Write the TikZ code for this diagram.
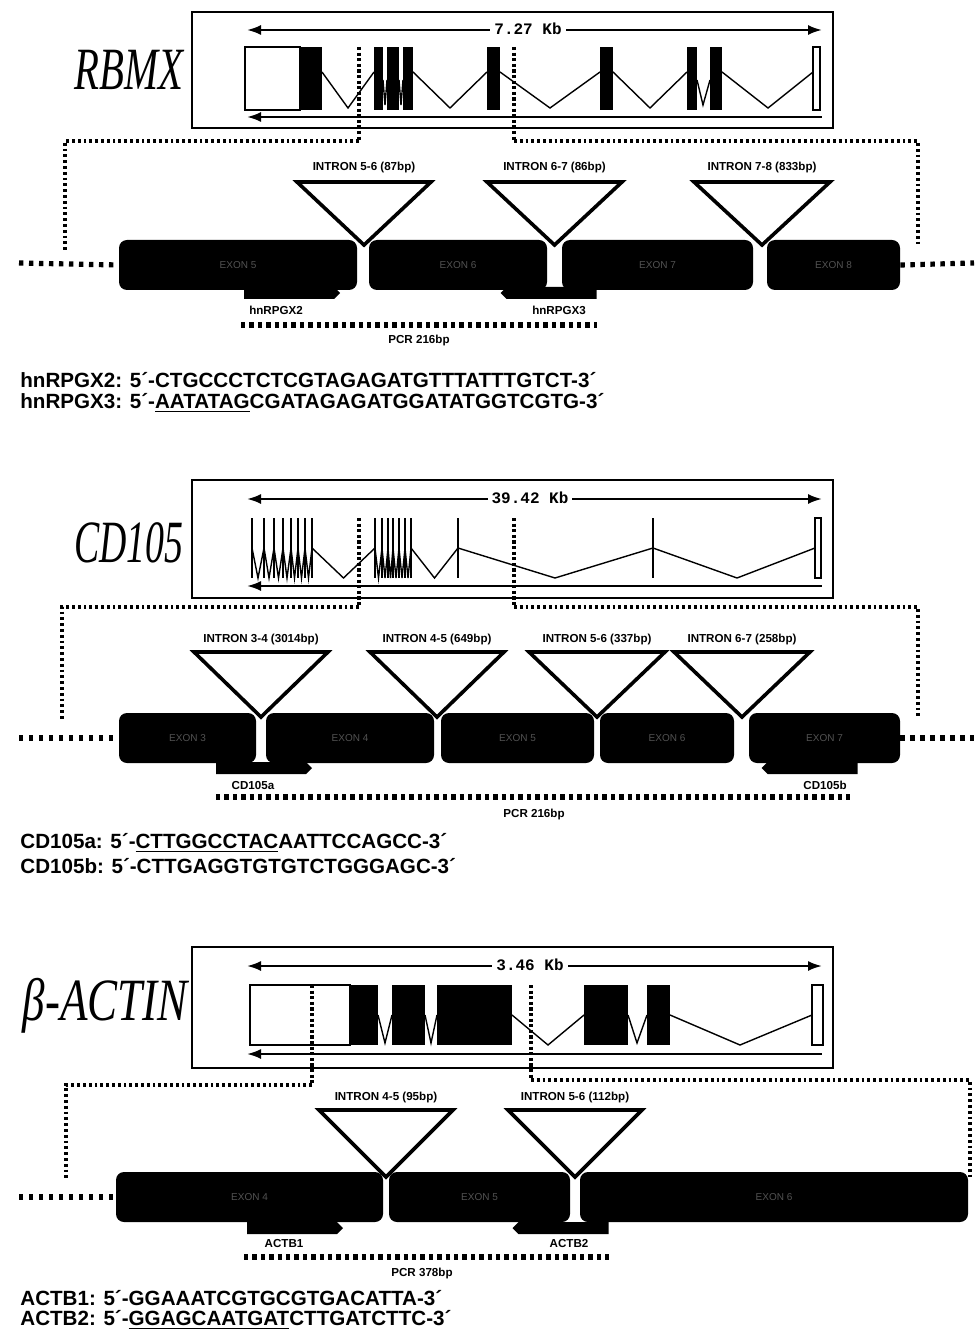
\documentclass[tikz,border=0pt]{standalone}
\usepackage{fontspec}
\setmainfont{Liberation Sans}
\newfontfamily\genefont{Liberation Serif}
\newfontfamily\kbfont{Liberation Mono}
\usetikzlibrary{arrows.meta, shapes.symbols, calc}

\begin{document}
\begin{tikzpicture}[
    x=0.5pt, y=-0.5pt,
    >={Latex[length=7pt,width=5pt]},
    % --- estilos ---
    genelabel/.style  = {font=\genefont\itshape\fontsize{30}{30}\selectfont,
                         anchor=base east, inner sep=0pt},
    genebox/.style    = {draw, line width=1pt},
    spanarrow/.style  = {line width=1.1pt},
    kbtext/.style     = {font=\kbfont\bfseries\fontsize{8}{8}\selectfont,
                         fill=white, inner sep=2pt},
    exonw/.style      = {draw, fill=white, line width=0.7pt},
    splice/.style     = {line width=0.7pt},
    thinbar/.style    = {line width=1pt},
    cutline/.style    = {dash pattern=on 1.6pt off 1.2pt, line width=1.6pt},
    linkline/.style   = {dash pattern=on 1.4pt off 1.5pt, line width=1.8pt},
    strandline/.style = {dash pattern=on 2.2pt off 2.8pt, line width=2.6pt},
    pcrline/.style    = {dash pattern=on 2.2pt off 2pt, line width=2.6pt},
    exonbox/.style    = {rectangle, rounded corners=4pt, fill=black,
                         minimum height=25pt, text=black!68, inner sep=0pt,
                         font=\fontsize{5}{5}\selectfont},
    introntri/.style  = {draw, fill=white, line width=1.8pt, line join=miter},
    tagtext/.style    = {font=\bfseries\fontsize{5.8}{6}\selectfont, inner sep=1pt},
    primerbar/.style  = {signal, fill=black, minimum width=48pt,
                         minimum height=6pt, inner sep=0pt},
    seqtext/.style    = {font=\bfseries\fontsize{10.3}{12}\selectfont,
                         anchor=west, inner sep=0pt}
]
\useasboundingbox (0,0) rectangle (974,1331);
\fill[white] (0,0) rectangle (974,1331);

% ===================== RBMX =====================
\node[genelabel] (rname) at (184,90) {\scalebox{0.68}[1]{RBMX}};
\draw[genebox] (192,12) rectangle (833,128);
\coordinate (rka) at (247,30);
\coordinate (rkb) at (822,30);
\draw[spanarrow, <->] (rka) -- (rkb);
\node[kbtext] (rkt) at (528,29) {7.27 Kb};
\coordinate (rsa) at (247,117);
\coordinate (rsb) at (822,117);
\draw[spanarrow, <-] (rsa) -- (rsb);
% estructura del gen
\draw[exonw] (245,47) rectangle (300,110);
\fill (300,47) rectangle (322,110);
\fill (374,47) rectangle (383,110);
\fill (387,47) rectangle (399,110);
\fill (403,47) rectangle (413,110);
\fill (487,47) rectangle (500,110);
\fill (600,47) rectangle (613,110);
\fill (687,47) rectangle (697,110);
\fill (710,47) rectangle (722,110);
\draw[exonw] (813,47) rectangle (820,110);
\draw[splice] (322,72) -- (348,108) -- (374,72);
\draw[splice] (383,80) -- (385,105) -- (387,80);
\draw[splice] (399,80) -- (401,105) -- (403,80);
\draw[splice] (413,72) -- (450,108) -- (487,72);
\draw[splice] (500,72) -- (550,108) -- (600,72);
\draw[splice] (613,72) -- (650,108) -- (687,72);
\draw[splice] (697,80) -- (703,105) -- (710,80);
\draw[splice] (722,72) -- (768,108) -- (813,72);
% lineas de ampliacion
\coordinate (rc1) at (359,47);  \coordinate (rd1) at (359,141);
\coordinate (rc2) at (514,47);  \coordinate (rd2) at (514,141);
\coordinate (rl)  at (65,252);  \coordinate (rr)  at (918,247);
\draw[cutline] (rc1) -- (rd1);
\draw[cutline] (rc2) -- (rd2);
\draw[linkline] (rd1) -| (rl);
\draw[linkline] (rd2) -| (rr);
% exones
\node[exonbox, minimum width=119pt]  (re5) at (238,265)   {EXON 5};
\node[exonbox, minimum width=89pt]   (re6) at (458,265)   {EXON 6};
\node[exonbox, minimum width=95.5pt] (re7) at (657.5,265) {EXON 7};
\node[exonbox, minimum width=66.5pt] (re8) at (833.5,265) {EXON 8};
\coordinate (rsl) at (19,263);  \coordinate (rsr) at (974,263);
\draw[strandline] (rsl) -- (re5.west);
\draw[strandline] (re8.east) -- (rsr);
% intrones
\foreach \l/\r/\t [count=\i] in {297/431/{INTRON 5-6 (87bp)},
                                487/622/{INTRON 6-7 (86bp)},
                                694/830/{INTRON 7-8 (833bp)}} {
    \draw[introntri] (\l,182) -- (\r,182) -- ({(\l+\r)/2},245) -- cycle;
    \node[tagtext] (ri\i) at ({(\l+\r)/2},168) {\t};
}
% cebadores
\node[primerbar, signal to=east] (rp2) at (289,293)   {};
\node[primerbar, signal to=west] (rp3) at (551.5,293) {};
\node[tagtext] (rp2t) at (276,310) {hnRPGX2};
\node[tagtext] (rp3t) at (559,310) {hnRPGX3};
\coordinate (rpa) at (241,325);  \coordinate (rpb) at (597,325);
\draw[pcrline] (rpa) -- (rpb);
\node[tagtext] (rpcr) at (419,341) {PCR 216bp};
\node[seqtext] (rq2) at (20,380) {hnRPGX2: 5´-CTGCCCTCTCGTAGAGATGTTTATTTGTCT-3´};
\node[seqtext] (rq3) at (20,403) {hnRPGX3: 5´-\underline{AATATAG}CGATAGAGATGGATATGGTCGTG-3´};

% ===================== CD105 =====================
\node[genelabel] (cname) at (184,562) {\scalebox{0.63}[1]{CD105}};
\draw[genebox] (192,480) rectangle (833,598);
\coordinate (cka) at (247,499);
\coordinate (ckb) at (822,499);
\draw[spanarrow, <->] (cka) -- (ckb);
\node[kbtext] (ckt) at (530,498) {39.42 Kb};
\coordinate (csa) at (247,586);
\coordinate (csb) at (822,586);
\draw[spanarrow, <-] (csa) -- (csb);
% estructura del gen
\foreach \x in {252,264,274,283,291,298,305,312,375,382,388,393,399,405,411,458,653}
    \draw[thinbar] (\x,518) -- (\x,578);
\foreach \a/\b in {252/264,264/274,274/283,283/291,291/298,298/305,305/312,312/375,
                   375/382,382/388,388/393,393/399,399/405,405/411,411/458}
    \draw[splice] (\a,548) -- ({(\a+\b)/2},578) -- (\b,548);
\draw[splice] (458,548) -- (555,578) -- (653,548) -- (737,578) -- (815,548);
\draw[exonw] (815,518) rectangle (821,578);
% lineas de ampliacion
\coordinate (cc1) at (359,518);  \coordinate (cd1) at (359,607);
\coordinate (cc2) at (514,518);  \coordinate (cd2) at (514,607);
\coordinate (cl)  at (62,720);   \coordinate (cr)  at (918,717);
\draw[cutline] (cc1) -- (cd1);
\draw[cutline] (cc2) -- (cd2);
\draw[linkline] (cd1) -| (cl);
\draw[linkline] (cd2) -| (cr);
% exones
\node[exonbox, minimum width=68.5pt] (ce3) at (187.5,738) {EXON 3};
\node[exonbox, minimum width=84pt]   (ce4) at (350,738)   {EXON 4};
\node[exonbox, minimum width=76.5pt] (ce5) at (517.5,738) {EXON 5};
\node[exonbox, minimum width=67pt]   (ce6) at (667,738)   {EXON 6};
\node[exonbox, minimum width=75.5pt] (ce7) at (824.5,738) {EXON 7};
\coordinate (csl) at (19,738);  \coordinate (csr) at (974,738);
\draw[strandline] (csl) -- (ce3.west);
\draw[strandline] (ce7.east) -- (csr);
% intrones
\foreach \l/\r/\t [count=\i] in {194/328/{INTRON 3-4 (3014bp)},
                                370/504/{INTRON 4-5 (649bp)},
                                529/665/{INTRON 5-6 (337bp)},
                                674/810/{INTRON 6-7 (258bp)}} {
    \draw[introntri] (\l,652) -- (\r,652) -- ({(\l+\r)/2},717) -- cycle;
    \node[tagtext] (ci\i) at ({(\l+\r)/2},639) {\t};
}
% cebadores
\node[primerbar, signal to=east] (cpa) at (261,768)   {};
\node[primerbar, signal to=west] (cpb) at (812.5,768) {};
\node[tagtext] (cpat) at (253,785) {CD105a};
\node[tagtext] (cpbt) at (825,785) {CD105b};
\coordinate (cqa) at (216,797);  \coordinate (cqb) at (853,797);
\draw[pcrline] (cqa) -- (cqb);
\node[tagtext] (cpcr) at (534,814) {PCR 216bp};
\node[seqtext] (cqs1) at (20,843) {CD105a: 5´-\underline{CTTGGCCTAC}AATTCCAGCC-3´};
\node[seqtext] (cqs2) at (20,866) {CD105b: 5´-CTTGAGGTGTGTCTGGGAGC-3´};

% ===================== BETA-ACTIN =====================
\node[genelabel] (aname) at (188,1020) {\scalebox{0.75}[1]{β-ACTIN}};
\draw[genebox] (192,947) rectangle (833,1068);
\coordinate (aka) at (247,966);
\coordinate (akb) at (822,966);
\draw[spanarrow, <->] (aka) -- (akb);
\node[kbtext] (akt) at (530,965) {3.46 Kb};
\coordinate (asa) at (247,1054);
\coordinate (asb) at (822,1054);
\draw[spanarrow, <-] (asa) -- (asb);
% estructura del gen
\draw[exonw] (250,985) rectangle (350,1045);
\fill (350,985) rectangle (378,1045);
\fill (392,985) rectangle (425,1045);
\fill (437,985) rectangle (512,1045);
\fill (584,985) rectangle (628,1045);
\fill (647,985) rectangle (670,1045);
\draw[exonw] (812,985) rectangle (823,1045);
\draw[splice] (378,1015) -- (385,1043) -- (392,1015);
\draw[splice] (425,1015) -- (431,1043) -- (437,1015);
\draw[splice] (512,1015) -- (548,1045) -- (584,1015);
\draw[splice] (628,1015) -- (637,1043) -- (647,1015);
\draw[splice] (670,1015) -- (740,1045) -- (812,1015);
% lineas de ampliacion
\coordinate (ac1) at (312,985);  \coordinate (ad1) at (312,1085);
\coordinate (ac2) at (531,985);  \coordinate (ad2) at (531,1080);
\coordinate (al)  at (66,1178);  \coordinate (ar)  at (970,1178);
\draw[cutline] (ac1) -- (ad1);
\draw[cutline] (ac2) -- (ad2);
\draw[linkline] (ad1) -| (al);
\draw[linkline] (ad2) -| (ar);
% exones
\node[exonbox, minimum width=133.5pt] (ae4) at (249.5,1197) {EXON 4};
\node[exonbox, minimum width=90.5pt]  (ae5) at (479.5,1197) {EXON 5};
\node[exonbox, minimum width=194pt]   (ae6) at (774,1197)   {EXON 6};
\coordinate (asl) at (19,1197);
\draw[strandline] (asl) -- (ae4.west);
% intrones
\foreach \l/\r/\t [count=\i] in {319/453/{INTRON 4-5 (95bp)},
                                508/642/{INTRON 5-6 (112bp)}} {
    \draw[introntri] (\l,1110) -- (\r,1110) -- ({(\l+\r)/2},1177) -- cycle;
    \node[tagtext] (ai\i) at ({(\l+\r)/2},1097) {\t};
}
% cebadores
\node[primerbar, signal to=east] (ap1) at (292,1228)   {};
\node[primerbar, signal to=west] (ap2) at (563.5,1228) {};
\node[tagtext] (ap1t) at (284,1243) {ACTB1};
\node[tagtext] (ap2t) at (569,1243) {ACTB2};
\coordinate (aqa) at (244,1257);  \coordinate (aqb) at (609,1257);
\draw[pcrline] (aqa) -- (aqb);
\node[tagtext] (apcr) at (422,1273) {PCR 378bp};
\node[seqtext] (aqs1) at (20,1298) {ACTB1: 5´-GGAAATCGTGCGTGACATTA-3´};
\node[seqtext] (aqs2) at (20,1320) {ACTB2: 5´-\underline{GGAGCAATGAT}CTTGATCTTC-3´};

\end{tikzpicture}
\end{document}
